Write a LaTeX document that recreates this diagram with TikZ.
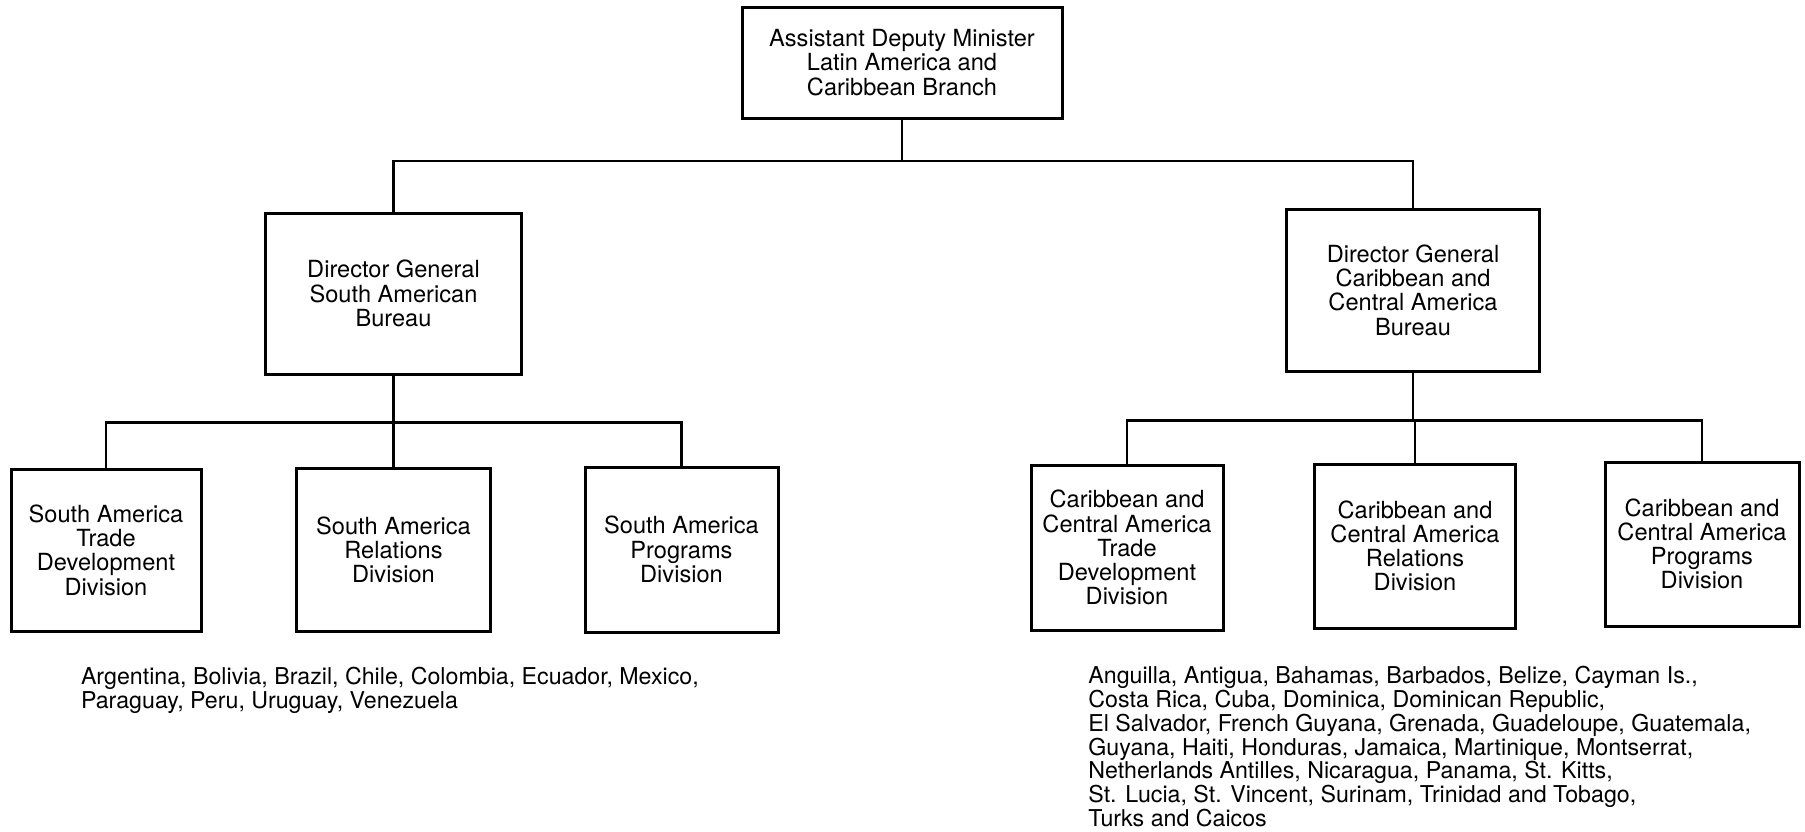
\documentclass[tikz,border=0pt]{standalone}
\usepackage{fontspec}
\setmainfont{TeX Gyre Heros}
\begin{document}
\begin{tikzpicture}[x=0.5pt,y=-0.5pt,
  box/.style={draw,line width=1.5pt,align=center,inner sep=0pt,font=\fontsize{11.8}{12.1}\selectfont},
  conn/.style={line width=1.3pt},
  countries/.style={align=left,inner sep=0pt,anchor=north west,font=\fontsize{11.6}{11.9}\selectfont}]
\useasboundingbox (0,0) rectangle (1805,831);
\node[box,minimum width=160pt,minimum height=55.5pt] (adm) at (902,62.5) {Assistant Deputy Minister\\Latin America and\\Caribbean Branch};
\node[box,minimum width=128.25pt,minimum height=80.5pt] (sab) at (393.5,293.5) {Director General\\South American\\Bureau};
\node[box,minimum width=126.5pt,minimum height=80.75pt] (ccb) at (1413,290.25) {Director General\\Caribbean and\\Central America\\Bureau};
\node[box,minimum width=95pt,minimum height=80.75pt] (sa1) at (106,550.25) {South America\\Trade\\Development\\Division};
\node[box,minimum width=97.25pt,minimum height=81.25pt] (sa2) at (393.5,549.75) {South America\\Relations\\Division};
\node[box,minimum width=96.5pt,minimum height=82.5pt] (sa3) at (681.5,549.5) {South America\\Programs\\Division};
\node[box,minimum width=96pt,minimum height=82.25pt] (cc1) at (1127,547.75) {Caribbean and\\Central America\\Trade\\Development\\Division};
\node[box,minimum width=100.5pt,minimum height=82pt] (cc2) at (1415,546) {Caribbean and\\Central America\\Relations\\Division};
\node[box,minimum width=97pt,minimum height=82pt] (cc3) at (1702,544) {Caribbean and\\Central America\\Programs\\Division};
\coordinate (j1) at (902,161);
\coordinate (j2) at (393.5,422.5);
\coordinate (j3) at (1413,420.5);
\draw[conn] (adm.south) -- (j1);
\draw[conn] (sab.north) |- (j1) -| (ccb.north);
\draw[conn] (sab.south) -- (j2);
\draw[conn] (sa1.north) |- (j2) -| (sa3.north);
\draw[conn] (sa2.north) -- (sa2.north |- j2);
\draw[conn] (ccb.south) -- (j3);
\draw[conn] (cc1.north) |- (j3) -| (cc3.north);
\draw[conn] (cc2.north) -- (cc2.north |- j3);
\node[countries] (salist) at (80.6,667) {Argentina, Bolivia, Brazil, Chile, Colombia, Ecuador, Mexico,\\Paraguay, Peru, Uruguay, Venezuela};
\node[countries] (cclist) at (1088,666) {Anguilla, Antigua, Bahamas, Barbados, Belize, Cayman Is.,\\Costa Rica, Cuba, Dominica, Dominican Republic,\\El Salvador, French Guyana, Grenada, Guadeloupe, Guatemala,\\Guyana, Haiti, Honduras, Jamaica, Martinique, Montserrat,\\Netherlands Antilles, Nicaragua, Panama, St. Kitts,\\St. Lucia, St. Vincent, Surinam, Trinidad and Tobago,\\Turks and Caicos};
\end{tikzpicture}
\end{document}
